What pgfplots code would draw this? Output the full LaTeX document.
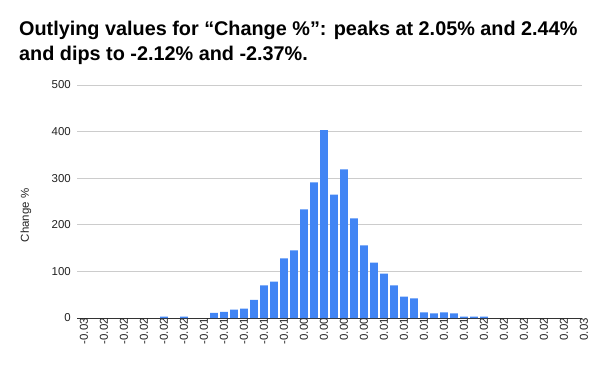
\documentclass[border=0pt]{standalone}
\usepackage{pgfplots}
\pgfplotsset{compat=1.18}
\usepackage{fontspec}
\setmainfont{Liberation Sans}
\definecolor{barblue}{HTML}{4285F4}
\definecolor{gridgray}{HTML}{CCCCCC}
\definecolor{labgray}{HTML}{222222}
\definecolor{axisdark}{HTML}{333333}
\pgfplotstableread{
x y
-16.5 3
-14.5 3
-11.5 11
-10.5 13
-9.5 18
-8.5 20
-7.5 39
-6.5 70
-5.5 78
-4.5 128
-3.5 145
-2.5 233
-1.5 291
-0.5 403
0.5 265
1.5 319
2.5 214
3.5 156
4.5 119
5.5 95
6.5 70
7.5 46
8.5 42
9.5 12
10.5 10
11.5 12
12.5 10
13.5 3
14.5 3
15.5 3
}\datatable
\begin{document}
\begin{tikzpicture}
\useasboundingbox (0,0) rectangle (600bp,371bp);
\node[anchor=north west, align=left, inner sep=0pt, font=\fontsize{19.9}{25}\selectfont\bfseries] at (19bp,350bp)
{Outlying values for “Change \%”: peaks at 2.05\% and 2.44\%\\and dips to -2.12\% and -2.37\%.};
\begin{axis}[
  at={(77bp,53bp)}, anchor=south west,
  width=505bp, height=233bp, scale only axis,
  xmin=-25.2, xmax=25.3, ymin=0, ymax=500,
  axis x line*=bottom, axis y line*=left,
  x axis line style={axisdark, line width=0.8bp, -},
  y axis line style={draw=none},
  ymajorgrids, grid style={gridgray, line width=0.6bp},
  major tick length=0pt,
  ytick={0,100,200,300,400,500},
  xtick={-25,-23,...,25},
  xticklabels={-0.03,-0.02,-0.02,-0.02,-0.02,-0.02,-0.01,-0.01,-0.01,-0.01,-0.01,0.00,0.00,0.00,0.00,0.01,0.01,0.01,0.01,0.01,0.02,0.02,0.02,0.02,0.02,0.03},
  xticklabel style={rotate=90, anchor=east, font=\fontsize{11.5}{13}\selectfont, text=labgray, inner sep=0pt, yshift=-5bp},
  yticklabel style={anchor=east, font=\fontsize{11.5}{13}\selectfont, text=labgray, inner sep=0pt, xshift=-6bp},
  /pgf/number format/assume math mode=true,
  ylabel={Change \%},
  every axis y label/.style={at={(rel axis cs:0,0.44)}, xshift=-51bp, rotate=90, anchor=center, font=\fontsize{11.5}{13}\selectfont, text=labgray},
  clip=false,
]
\addplot[ybar, bar width=7.8bp, fill=barblue, draw=none] table[x=x,y=y] {\datatable};
\end{axis}
\end{tikzpicture}
\end{document}
